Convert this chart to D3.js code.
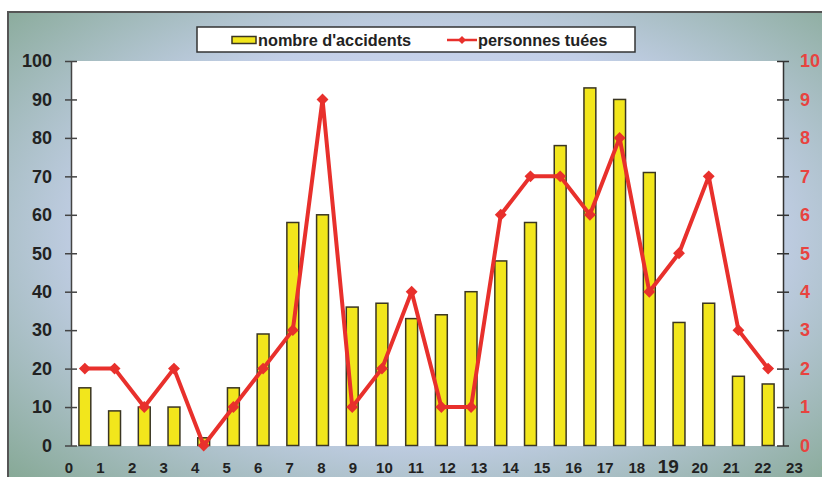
<!DOCTYPE html>
<html lang="fr">
<head>
<meta charset="UTF-8">
<script src="https://d3js.org/d3.v7.min.js"></script>
<style>
  body { margin: 0; background: #fff; }
  svg text { font-family: "Liberation Sans", Arial, sans-serif; font-weight: bold; }
</style>
</head>
<body>
<div id="chart"></div>
<script>
// data
const hours = d3.range(0, 24);
const accidents = [15, 9, 10, 10, 2, 15, 29, 58, 60, 36, 37, 33, 34, 40, 48, 58, 78, 93, 90, 71, 32, 37, 18, 16];
const killed = [2, 2, 1, 2, 0, 1, 2, 3, 9, 1, 2, 4, 1, 1, 6, 7, 7, 6, 8, 4, 5, 7, 3, 2];
const hourLabels = ["0","1","2","3","4","5","6","7","8","9","10","11","12","13","14","15","16","17","18","19","20","21","22","23","0"];
const leftTicks = [0, 10, 20, 30, 40, 50, 60, 70, 80, 90, 100];
const rightTicks = [0, 1, 2, 3, 4, 5, 6, 7, 8, 9, 10];

const W = 822, H = 477;
const plot = { left: 71, right: 783, top: 61, bottom: 446 };

const svg = d3.select("#chart").append("svg")
  .attr("width", W)
  .attr("height", H);

// background gradient
const defs = svg.append("defs");
const grad = defs.append("radialGradient")
  .attr("id", "bg")
  .attr("cx", "50%").attr("cy", "45%").attr("r", "72%");
grad.append("stop").attr("offset", "0%").attr("stop-color", "#dde6f6");
grad.append("stop").attr("offset", "55%").attr("stop-color", "#c3cfe8");
grad.append("stop").attr("offset", "100%").attr("stop-color", "#82a690");

svg.append("rect")
  .attr("x", 8).attr("y", 12)
  .attr("width", W + 20).attr("height", H + 20)
  .attr("fill", "url(#bg)")
  .attr("stroke", "#555")
  .attr("stroke-width", 2);

svg.append("rect")
  .attr("x", plot.left).attr("y", plot.top)
  .attr("width", plot.right - plot.left)
  .attr("height", plot.bottom - plot.top)
  .attr("fill", "#fff");

const x = d3.scaleBand()
  .domain(hours)
  .range([70, plot.right])
  .paddingInner(0.6)
  .paddingOuter(0.3);

const xLab = d3.scaleLinear()
  .domain([0, 24])
  .range([69, 826]);

const yL = d3.scaleLinear().domain([0, 100]).range([plot.bottom - 0.5, plot.top]);
const yR = d3.scaleLinear().domain([0, 10]).range([plot.bottom - 0.5, plot.top]);

// bars
svg.append("g")
  .selectAll("rect")
  .data(accidents)
  .join("rect")
    .attr("x", (d, i) => x(hours[i]))
    .attr("y", d => yL(d))
    .attr("width", x.bandwidth())
    .attr("height", d => yL(0) - yL(d))
    .attr("fill", "#f2e61c")
    .attr("stroke", "#3a3522")
    .attr("stroke-width", 1.5);

// left axis
const axL = svg.append("g")
  .attr("transform", `translate(${plot.left},0)`)
  .call(d3.axisLeft(yL).tickValues(leftTicks).tickSize(6).tickSizeOuter(0).tickPadding(13));
axL.select(".domain").attr("stroke", "#444").attr("stroke-width", 1.5);
axL.selectAll(".tick line").attr("x1", 6).attr("stroke", "#444").attr("stroke-width", 1.5);
axL.selectAll(".tick text").attr("font-size", 18).attr("fill", "#222");

// right axis
const axR = svg.append("g")
  .attr("transform", `translate(${plot.right},0)`)
  .call(d3.axisRight(yR).tickValues(rightTicks).tickSize(6).tickSizeOuter(0).tickPadding(11));
axR.select(".domain").attr("stroke", "#333").attr("stroke-width", 1.5);
axR.selectAll(".tick line").attr("x1", -6).attr("stroke", "#333").attr("stroke-width", 1.5);
axR.selectAll(".tick text").attr("font-size", 18).attr("fill", "#e8433f");

// x labels
svg.append("g")
  .selectAll("text")
  .data(hourLabels)
  .join("text")
    .attr("x", (d, i) => xLab(i))
    .attr("y", 473)
    .attr("text-anchor", "middle")
    .attr("font-size", d => d === "19" ? 19 : 15)
    .attr("font-weight", d => d === "19" ? "normal" : "bold")
    .attr("fill", "#222")
    .text(d => d);

// line
const cx = i => x(hours[i]) + x.bandwidth() / 2;
svg.append("path")
  .datum(killed)
  .attr("fill", "none")
  .attr("stroke", "#e8302c")
  .attr("stroke-width", 4)
  .attr("stroke-linejoin", "round")
  .attr("d", d3.line().x((d, i) => cx(i)).y(d => yR(d)));

const diamond = d3.symbol().type(d3.symbolDiamond2).size(90);
svg.append("g")
  .selectAll("path")
  .data(killed)
  .join("path")
    .attr("transform", (d, i) => `translate(${cx(i)},${yR(d)})`)
    .attr("d", diamond)
    .attr("fill", "#e8302c");

// legend
const lg = svg.append("g");
lg.append("rect")
  .attr("x", 197).attr("y", 27)
  .attr("width", 438).attr("height", 25)
  .attr("fill", "#fff")
  .attr("stroke", "#333")
  .attr("stroke-width", 1.5);
lg.append("rect")
  .attr("x", 232).attr("y", 36.5)
  .attr("width", 24).attr("height", 7)
  .attr("fill", "#f2e61c")
  .attr("stroke", "#3a3522")
  .attr("stroke-width", 1.5);
lg.append("text")
  .attr("x", 258).attr("y", 46)
  .attr("font-size", 16.3)
  .attr("fill", "#222")
  .text("nombre d'accidents");
lg.append("line")
  .attr("x1", 447).attr("x2", 477)
  .attr("y1", 40).attr("y2", 40)
  .attr("stroke", "#e8302c")
  .attr("stroke-width", 2.5);
lg.append("path")
  .attr("transform", "translate(462,40)")
  .attr("d", d3.symbol().type(d3.symbolDiamond2).size(40))
  .attr("fill", "#e8302c");
lg.append("text")
  .attr("x", 478).attr("y", 46)
  .attr("font-size", 16.3)
  .attr("fill", "#222")
  .text("personnes tuées");
</script>
</body>
</html>
